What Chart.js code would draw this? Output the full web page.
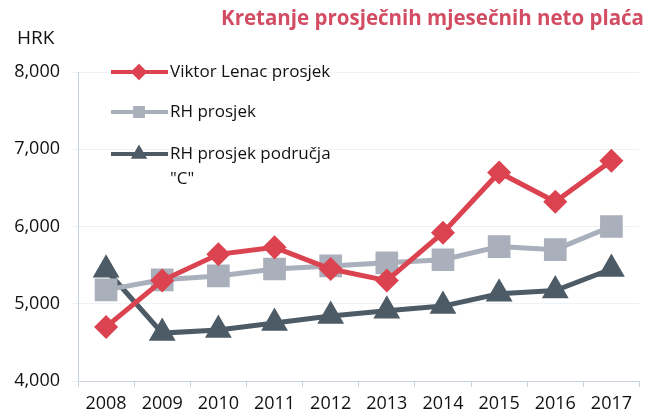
<!DOCTYPE html>
<html>
<head>
<meta charset="utf-8">
<script src="https://cdn.jsdelivr.net/npm/chart.js@4"></script>
<style>
  html, body { margin: 0; padding: 0; background: #fff; }
  #wrap { position: relative; width: 657px; height: 418px; }
</style>
</head>
<body>
<div id="wrap"><canvas id="chart" width="657" height="418"></canvas></div>
<script>
const years = ['2008', '2009', '2010', '2011', '2012', '2013', '2014', '2015', '2016', '2017'];
const lenacAvg = [4700, 5300, 5640, 5730, 5450, 5300, 5920, 6700, 6320, 6850];
const rhAvg = [5180, 5310, 5360, 5450, 5490, 5530, 5570, 5740, 5700, 6000];
const rhAreaC = [5440, 4620, 4660, 4750, 4840, 4910, 4970, 5130, 5170, 5450];
const yTicks = [4000, 5000, 6000, 7000, 8000];

const FONT = "'Open Sans', 'Noto Sans', sans-serif";

// legend + title + unit label drawn inside the plot, like the original
const overlay = {
  id: 'overlay',
  afterDraw(chart) {
    const ctx = chart.ctx;
    ctx.save();
    ctx.fillStyle = '#d24d64';
    ctx.font = 'bold 20.5px ' + FONT;
    ctx.textAlign = 'right';
    ctx.textBaseline = 'middle';
    ctx.fillText('Kretanje prosječnih mjesečnih neto plaća', 644, 19);

    ctx.fillStyle = '#111';
    ctx.font = '19px ' + FONT;
    ctx.textAlign = 'left';
    ctx.fillText('HRK', 17, 39);

    const rows = [
      { y: 72, lines: ['Viktor Lenac prosjek'] },
      { y: 112, lines: ['RH prosjek'] },
      { y: 154, lines: ['RH prosjek područja', '"C"'] }
    ];
    chart.data.datasets.forEach((ds, i) => {
      const r = rows[i];
      ctx.strokeStyle = ds.borderColor;
      ctx.lineWidth = 4;
      ctx.beginPath();
      ctx.moveTo(111, r.y);
      ctx.lineTo(168, r.y);
      ctx.stroke();
      ctx.fillStyle = ds.pointBackgroundColor;
      ctx.strokeStyle = ds.pointBackgroundColor;
      Chart.helpers.drawPoint(ctx, {
        pointStyle: ds.pointStyle, radius: 5.5, rotation: 0, borderWidth: 1
      }, 139, r.y);
      ctx.fillStyle = '#111';
      ctx.font = '17px ' + FONT;
      r.lines.forEach((t, k) => ctx.fillText(t, 170, r.y + k * 25));
    });
    ctx.restore();
  }
};

new Chart(document.getElementById('chart'), {
  type: 'line',
  data: {
    labels: years,
    datasets: [
      {
        label: 'Viktor Lenac prosjek',
        data: lenacAvg,
        borderColor: '#dc4350',
        pointBackgroundColor: '#dc4350',
        pointBorderColor: '#dc4350',
        pointStyle: 'rectRot',
        pointRadius: 8.5,
        borderWidth: 5,
        tension: 0
      },
      {
        label: 'RH prosjek',
        data: rhAvg,
        borderColor: '#a9afbb',
        pointBackgroundColor: '#a9afbb',
        pointBorderColor: '#a9afbb',
        pointStyle: 'rect',
        pointRadius: 12.5,
        borderWidth: 5,
        tension: 0
      },
      {
        label: 'RH prosjek područja "C"',
        data: rhAreaC,
        borderColor: '#4d5b66',
        pointBackgroundColor: '#4d5b66',
        pointBorderColor: '#4d5b66',
        pointStyle: 'triangle',
        pointRadius: 10.5,
        borderWidth: 5,
        tension: 0
      }
    ]
  },
  options: {
    responsive: false,
    animation: false,
    layout: { padding: { top: 72, right: 0, left: 0, bottom: 0 } },
    plugins: {
      legend: { display: false },
      title: { display: false },
      tooltip: { enabled: false }
    },
    scales: {
      x: {
        offset: true,
        grid: { display: true, drawOnChartArea: false, offset: true, color: '#c9d3df', tickLength: 6 },
        border: { color: '#c9d3df' },
        ticks: { color: '#111', font: { family: FONT, size: 18 }, padding: 6 },
        afterFit(scale) { scale.height = 37; }
      },
      y: {
        min: 4000,
        max: 8000,
        afterBuildTicks(scale) { scale.ticks = yTicks.map(v => ({ value: v })); },
        grid: { color: '#eef1f5', tickLength: 6 },
        border: { color: '#c9d3df' },
        ticks: {
          color: '#111',
          font: { family: FONT, size: 18 },
          padding: 12,
          callback: v => v.toLocaleString('en-US')
        },
        afterFit(scale) { scale.width = 78; }
      }
    }
  },
  plugins: [overlay]
});
</script>
</body>
</html>
